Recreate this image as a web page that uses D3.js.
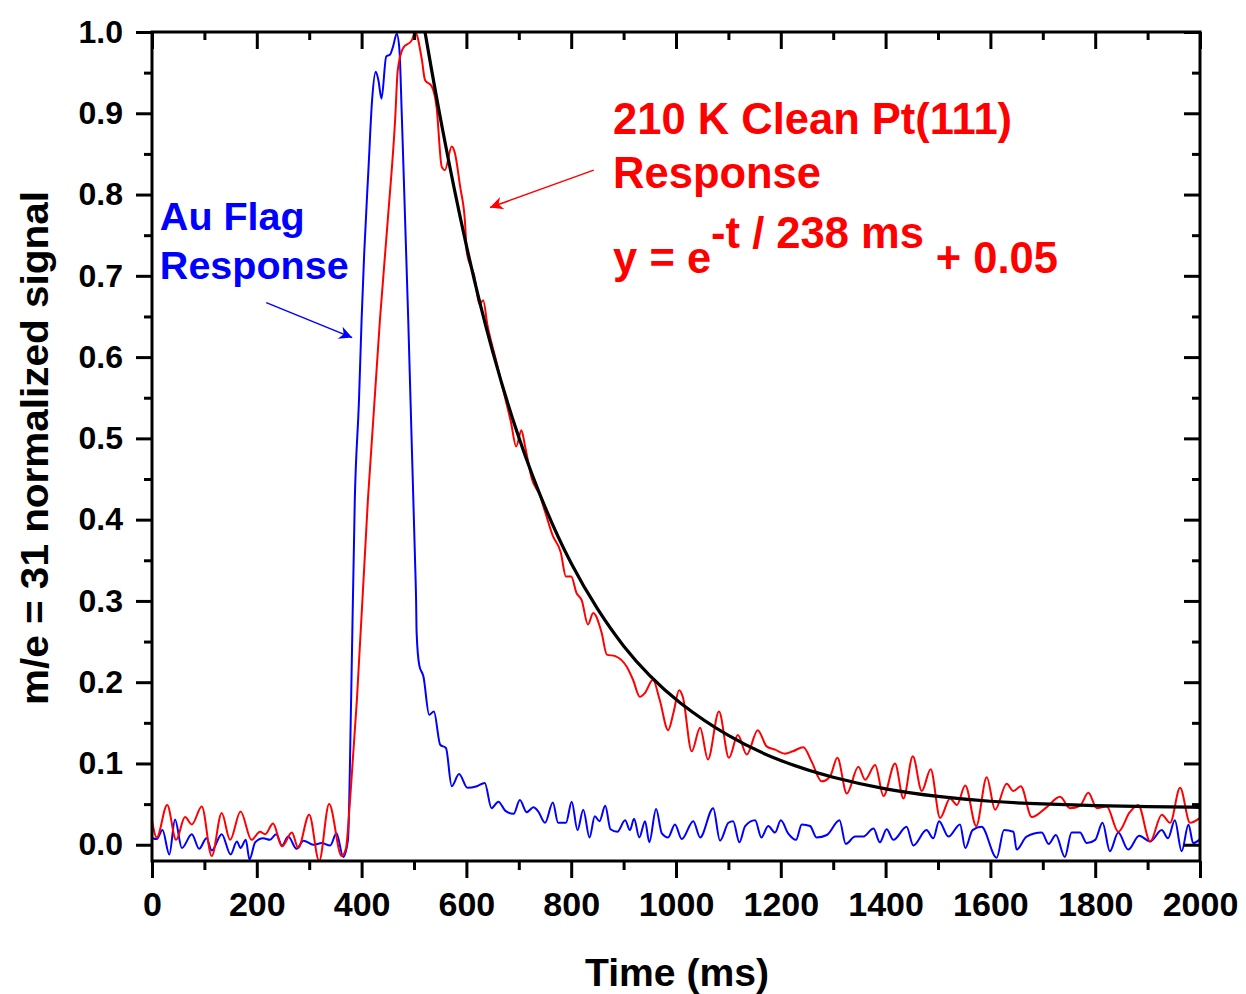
<!DOCTYPE html>
<html>
<head>
<meta charset="utf-8">
<script src="https://cdn.jsdelivr.net/npm/d3@7"></script>
<style>
  body { margin: 0; background: #fff; }
  svg { display: block; }
  text { font-family: "Liberation Sans", Arial, sans-serif; font-weight: bold; }
</style>
</head>
<body>
<div id="chart"></div>
<script>
// Au flag (blue) response, [time ms, signal]
const auFlag = [
  [1,0.008],[9,0.007],[20,0.018],[33,-0.012],[44,0.031],[57,-0.004],[76,0.013],[90,-0.005],[104,0.008],[114,-0.007],
  [133,0.013],[150,-0.012],[162,0.004],[169,-0.004],[179,0.006],[186,-0.018],[197,0.003],[212,0.008],[225,0.006],[237,0.013],
  [248,-0.001],[260,0.01],[276,-0.005],[289,0.005],[308,0.0],[324,0.002],[340,-0.001],[352,0.014],[365,-0.015],[374,0.006],
  [380,0.178],[387,0.424],[395,0.547],[400,0.646],[405,0.728],[413,0.83],[420,0.916],[427,0.951],[432,0.941],[438,0.918],
  [447,0.97],[454,0.972],[460,0.982],[467,0.998],[472,0.98],[477,0.892],[483,0.769],[489,0.646],[496,0.486],[502,0.35],
  [504,0.301],[505,0.261],[510,0.221],[518,0.207],[529,0.16],[538,0.164],[550,0.123],[561,0.119],[572,0.072],[586,0.087],
  [602,0.07],[620,0.072],[635,0.076],[648,0.045],[661,0.053],[674,0.042],[690,0.038],[702,0.055],[715,0.04],[728,0.046],
  [737,0.041],[750,0.027],[765,0.052],[775,0.027],[790,0.027],[801,0.053],[812,0.018],[823,0.043],[835,0.009],[845,0.035],
  [854,0.029],[865,0.048],[875,0.019],[888,0.016],[903,0.03],[912,0.018],[920,0.032],[930,0.009],[941,0.029],[949,0.003],
  [962,0.044],[973,0.014],[985,0.009],[998,0.025],[1011,0.007],[1033,0.029],[1046,0.009],[1071,0.045],[1084,0.005],[1100,0.027],
  [1109,0.029],[1121,0.003],[1132,0.023],[1151,0.03],[1163,0.009],[1176,0.023],[1189,0.015],[1200,0.03],[1214,0.014],[1229,0.006],
  [1240,0.025],[1256,0.023],[1268,0.009],[1288,0.012],[1312,0.03],[1324,0.001],[1342,0.01],[1357,0.01],[1377,0.02],[1389,0.003],
  [1402,0.019],[1415,0.006],[1440,0.022],[1453,-0.001],[1478,0.018],[1491,0.008],[1502,0.029],[1520,0.01],[1542,0.025],[1552,-0.004],
  [1566,0.018],[1583,0.022],[1612,-0.016],[1626,0.018],[1644,0.016],[1650,-0.006],[1669,0.01],[1698,0.015],[1711,0.001],[1725,0.012],
  [1742,-0.015],[1755,0.015],[1771,0.015],[1784,0.002],[1800,0.006],[1814,0.027],[1828,-0.008],[1844,0.015],[1863,-0.006],[1884,0.011],
  [1905,0.004],[1927,0.018],[1939,0.008],[1952,0.03],[1965,-0.008],[1978,0.025],[1987,0.002],[2000,0.007]
];

// 210 K clean Pt(111) (red) response
const ptResponse = [
  [0,0.03],[9,0.009],[29,0.049],[46,0.006],[63,0.034],[76,0.025],[95,0.047],[114,-0.014],[133,0.039],[149,0.006],
  [169,0.041],[190,0.006],[206,0.016],[216,0.013],[231,0.026],[248,-0.002],[267,0.015],[279,-0.004],[300,0.037],[319,-0.02],
  [338,0.05],[362,-0.014],[370,-0.005],[378,0.055],[391,0.178],[412,0.424],[435,0.646],[450,0.769],[464,0.892],[469,0.953],
  [479,0.98],[496,0.99],[502,1.0],[515,0.966],[521,0.941],[534,0.933],[543,0.908],[553,0.834],[559,0.83],[572,0.859],
  [578,0.851],[588,0.81],[597,0.769],[601,0.728],[615,0.70],[625,0.665],[632,0.67],[640,0.64],[655,0.60],[670,0.56],
  [685,0.52],[695,0.49],[705,0.51],[712,0.49],[725,0.45],[740,0.43],[750,0.41],[765,0.38],[780,0.36],[790,0.33],
  [800,0.33],[810,0.31],[820,0.301],[832,0.271],[842,0.285],[858,0.261],[868,0.234],[884,0.232],[906,0.219],[918,0.203],
  [931,0.182],[941,0.187],[956,0.203],[969,0.178],[985,0.141],[995,0.162],[1006,0.19],[1013,0.182],[1030,0.115],[1046,0.144],
  [1061,0.105],[1082,0.164],[1101,0.107],[1118,0.135],[1135,0.111],[1156,0.141],[1173,0.121],[1189,0.117],[1208,0.112],[1223,0.115],
  [1243,0.12],[1259,0.102],[1278,0.078],[1294,0.084],[1308,0.107],[1326,0.063],[1348,0.096],[1361,0.08],[1380,0.098],[1396,0.06],
  [1418,0.1],[1434,0.057],[1452,0.109],[1469,0.066],[1486,0.093],[1504,0.033],[1523,0.057],[1536,0.049],[1552,0.073],[1573,0.023],
  [1593,0.083],[1609,0.043],[1631,0.075],[1644,0.066],[1658,0.072],[1679,0.034],[1707,0.046],[1733,0.059],[1752,0.045],[1771,0.048],
  [1787,0.064],[1803,0.045],[1822,0.047],[1844,0.016],[1866,0.04],[1882,0.049],[1905,0.004],[1927,0.037],[1943,0.027],[1962,0.07],
  [1981,0.027],[2000,0.033]
];

// exponential fit curve
const fitCurve = [
  [521,1.0],[550,0.892],[600,0.732],[650,0.603],[700,0.498],[750,0.413],[800,0.344],[850,0.289],[900,0.243],[950,0.207],
  [1000,0.177],[1100,0.132],[1200,0.102],[1300,0.082],[1400,0.068],[1500,0.059],[1600,0.053],[1700,0.050],[1800,0.048],
  [1900,0.047],[2000,0.046]
];

const xMajor = d3.range(0, 2001, 200);
const xMinor = d3.range(100, 2000, 200);
const yMajor = d3.range(0, 11).map(i => i / 10);
const yMinor = d3.range(0, 10).map(i => i / 10 + 0.05);

const width = 1246, height = 994;
const margin = {top: 32, right: 46, bottom: 133, left: 152};

const x = d3.scaleLinear().domain([0, 2000]).range([margin.left, width - margin.right]);
const y = d3.scaleLinear().domain([-0.02, 1.0]).range([height - margin.bottom, margin.top]);

const svg = d3.select("#chart").append("svg")
    .attr("width", width)
    .attr("height", height);

svg.append("clipPath").attr("id", "plot")
  .append("rect")
    .attr("x", x(0)).attr("y", y(1.0))
    .attr("width", x(2000) - x(0)).attr("height", y(-0.02) - y(1.0));

const line = d3.line()
    .x(d => x(d[0]))
    .y(d => y(d[1]))
    .curve(d3.curveMonotoneX);

const lines = svg.append("g").attr("clip-path", "url(#plot)");

lines.append("path").datum(auFlag)
    .attr("fill", "none").attr("stroke", "#0000ff").attr("stroke-width", 2)
    .attr("d", line);
lines.append("path").datum(ptResponse)
    .attr("fill", "none").attr("stroke", "#ff0000").attr("stroke-width", 2)
    .attr("d", line);
lines.append("path").datum(fitCurve)
    .attr("fill", "none").attr("stroke", "#000").attr("stroke-width", 3.2)
    .attr("d", line.curve(d3.curveBasis));

// axes: left / bottom outward, top / right inward
const axisStyle = g => {
  g.select(".domain").remove();
  g.selectAll(".tick line").attr("stroke", "#000").attr("stroke-width", 3);
  g.selectAll("text").attr("fill", "#000");
};

svg.append("g")
    .attr("transform", `translate(${x(0)},0)`)
    .call(d3.axisLeft(y).tickValues(yMajor).tickSize(16).tickPadding(13).tickFormat(d3.format(".1f")))
    .call(axisStyle)
    .call(g => g.selectAll("text").style("font-size", "32px"));
svg.append("g")
    .attr("transform", `translate(${x(0)},0)`)
    .call(d3.axisLeft(y).tickValues(yMinor).tickSize(8).tickFormat(""))
    .call(axisStyle);

svg.append("g")
    .attr("transform", `translate(${x(2000)},0)`)
    .call(d3.axisRight(y).tickValues(yMajor).tickSize(-16).tickFormat(""))
    .call(axisStyle);
svg.append("g")
    .attr("transform", `translate(${x(2000)},0)`)
    .call(d3.axisRight(y).tickValues(yMinor).tickSize(-8).tickFormat(""))
    .call(axisStyle);

svg.append("g")
    .attr("transform", `translate(0,${y(-0.02)})`)
    .call(d3.axisBottom(x).tickValues(xMajor).tickSize(17).tickPadding(14).tickFormat(d3.format("d")))
    .call(axisStyle)
    .call(g => g.selectAll("text").style("font-size", "34px"));
svg.append("g")
    .attr("transform", `translate(0,${y(-0.02)})`)
    .call(d3.axisBottom(x).tickValues(xMinor).tickSize(9).tickFormat(""))
    .call(axisStyle);

svg.append("g")
    .attr("transform", `translate(0,${y(1.0)})`)
    .call(d3.axisTop(x).tickValues(xMajor).tickSize(-17).tickFormat(""))
    .call(axisStyle);
svg.append("g")
    .attr("transform", `translate(0,${y(1.0)})`)
    .call(d3.axisTop(x).tickValues(xMinor).tickSize(-8).tickFormat(""))
    .call(axisStyle);

// frame
svg.append("rect")
    .attr("x", x(0)).attr("y", y(1.0))
    .attr("width", x(2000) - x(0)).attr("height", y(-0.02) - y(1.0))
    .attr("fill", "none").attr("stroke", "#000").attr("stroke-width", 3);

// axis titles
svg.append("text")
    .attr("x", 677)
    .attr("y", 986)
    .attr("text-anchor", "middle")
    .attr("textLength", 184)
    .attr("lengthAdjust", "spacingAndGlyphs")
    .style("font-size", "39px")
    .text("Time (ms)");

svg.append("text")
    .attr("transform", `translate(48,448) rotate(-90)`)
    .attr("text-anchor", "middle")
    .attr("textLength", 514)
    .attr("lengthAdjust", "spacingAndGlyphs")
    .style("font-size", "38px")
    .text("m/e = 31 normalized signal");

// annotations
const defs = svg.append("defs");
[["blue", "#0000ff"], ["red", "#ff0000"]].forEach(([id, c]) => {
  defs.append("marker")
      .attr("id", "head-" + id)
      .attr("viewBox", "0 0 10 10")
      .attr("refX", 10).attr("refY", 5)
      .attr("markerWidth", 20).attr("markerHeight", 13)
      .attr("markerUnits", "userSpaceOnUse")
      .attr("orient", "auto")
    .append("path")
      .attr("d", "M0,0 L10,5 L0,10 L3,5 Z")
      .attr("fill", c);
});

svg.append("line")
    .attr("x1", x(218)).attr("y1", y(0.667))
    .attr("x2", x(382)).attr("y2", y(0.624))
    .attr("stroke", "#0000ff").attr("stroke-width", 1.5)
    .attr("marker-end", "url(#head-blue)");

svg.append("line")
    .attr("x1", x(843)).attr("y1", y(0.83))
    .attr("x2", x(645)).attr("y2", y(0.784))
    .attr("stroke", "#ff0000").attr("stroke-width", 1.5)
    .attr("marker-end", "url(#head-red)");

const blueNote = svg.append("g").attr("fill", "#0000ff").style("font-size", "39.5px");
blueNote.append("text").attr("x", x(15)).attr("y", y(0.756)).text("Au Flag");
blueNote.append("text").attr("x", x(15)).attr("y", y(0.696)).text("Response");

const redNote = svg.append("g").attr("fill", "#ff0000").style("font-size", "43.5px");
redNote.append("text").attr("x", x(880)).attr("y", y(0.8745)).text("210 K Clean Pt(111)");
redNote.append("text").attr("x", x(880)).attr("y", y(0.808)).text("Response");
const eq = redNote.append("text").attr("x", x(880)).attr("y", y(0.7036));
eq.append("tspan").text("y = e");
eq.append("tspan").attr("dy", -25).text("-t / 238 ms");
eq.append("tspan").attr("dy", 25).attr("dx", 12).text("+ 0.05");
</script>
</body>
</html>
